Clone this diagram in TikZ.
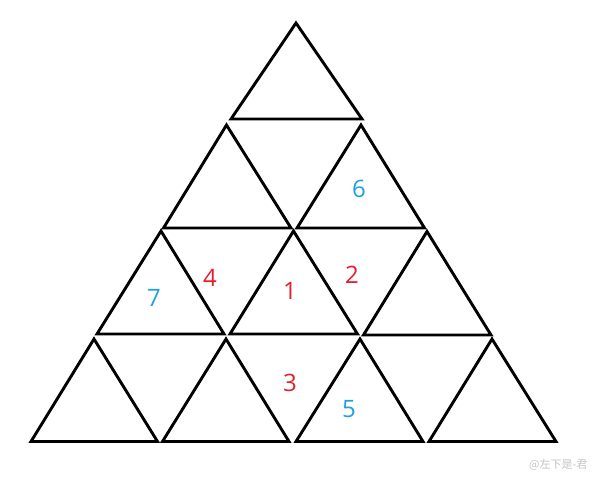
\documentclass[tikz,border=0pt]{standalone}
\usepackage{fontspec}
\setmainfont{Open Sans}
\newfontfamily\cjkfont{Noto Sans CJK SC}
\definecolor{numred}{RGB}{226,32,44}
\definecolor{numblue}{RGB}{34,160,222}
\definecolor{wmgray}{RGB}{195,195,195}
\tikzset{
  tri/.style={draw=black,line width=2.9pt,line join=miter},
  rednum/.style={text=numred,font=\fontsize{24}{28}\selectfont,inner sep=0pt},
  bluenum/.style={text=numblue,font=\fontsize{24}{28}\selectfont,inner sep=0pt},
  wmark/.style={text=wmgray,font=\cjkfont\fontsize{11}{12}\selectfont,inner sep=0pt,anchor=west}
}
\begin{document}
\begin{tikzpicture}[x=1pt,y=-1pt]
\useasboundingbox (0,0) rectangle (600,480);
% row 1
\draw[tri] (296,23) -- (231,119) -- (362,119) -- cycle;
% row 2
\draw[tri] (226.5,125) -- (163.5,228) -- (291,228) -- cycle;
\draw[tri] (361,125) -- (297,228) -- (424.5,228) -- cycle;
% row 3
\draw[tri] (161,231) -- (97,334) -- (224,334) -- cycle;
\draw[tri] (293.5,231) -- (230,334) -- (357.5,334) -- cycle;
\draw[tri] (427,231.5) -- (363.5,335) -- (491,335) -- cycle;
% row 4
\draw[tri] (94,339) -- (31,441.5) -- (157.5,441.5) -- cycle;
\draw[tri] (226,339) -- (162.5,441.5) -- (289,441.5) -- cycle;
\draw[tri] (360,339) -- (296,441.5) -- (423,441.5) -- cycle;
\draw[tri] (492,339) -- (429,441.5) -- (556,441.5) -- cycle;
% numbers
\node[bluenum] (n6) at (359,189) {6};
\node[rednum] (n4) at (210,278) {4};
\node[bluenum] (n7) at (154,298) {7};
\node[rednum] (n1) at (290,291) {1};
\node[rednum] (n2) at (352,275) {2};
\node[rednum] (n3) at (290,383) {3};
\node[bluenum] (n5) at (349,409) {5};
% watermark
\node[wmark] (wm) at (529,465) {@左下是-君};
\end{tikzpicture}
\end{document}
